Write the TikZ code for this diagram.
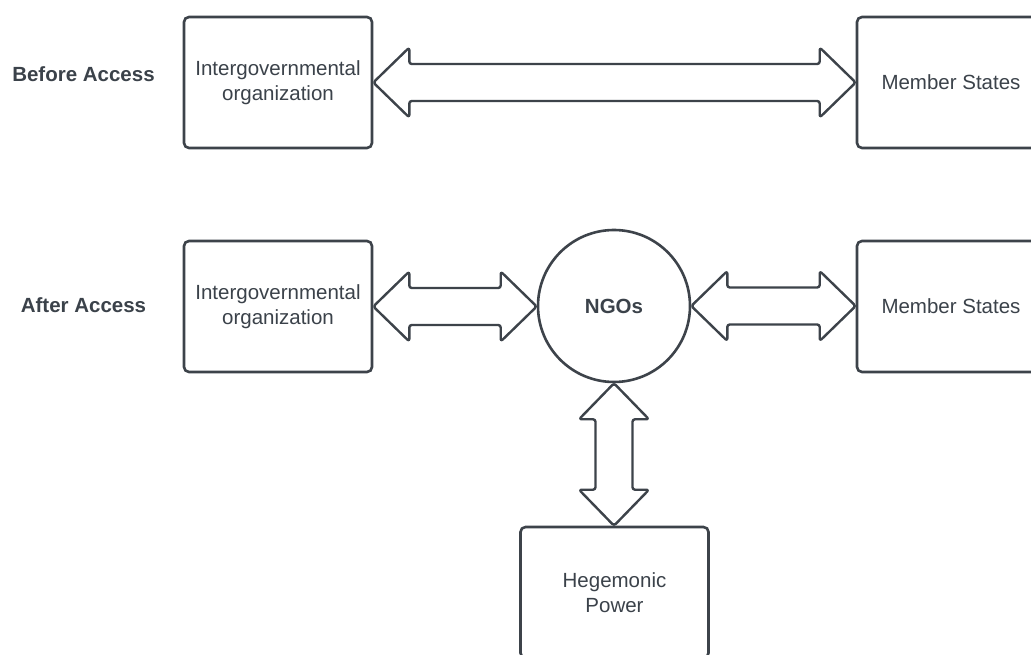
\documentclass[tikz,border=0pt]{standalone}
\usepackage{fontspec}
\setmainfont{Liberation Sans}
\usetikzlibrary{calc}
\definecolor{ink}{HTML}{3D434A}
\definecolor{txt}{HTML}{3B424A}
\tikzset{
  box/.style={draw=ink, line width=2.6pt, rounded corners=5pt, minimum width=188pt,
    minimum height=131pt, inner sep=0pt, align=center, text=txt,
    font=\fontsize{20.5}{25}\selectfont},
  hub/.style={draw=ink, line width=2.6pt, circle, minimum size=152pt, inner sep=0pt,
    text=txt, font=\fontsize{20.5}{25}\selectfont\bfseries},
  phase/.style={text=txt, font=\fontsize{20.5}{24}\selectfont\bfseries, inner sep=0pt},
  link/.style={draw=ink, fill=white, line width=2.4pt, rounded corners=2.5pt, line join=round},
}
% horizontal double arrow from the east side of #1 to the west side of #2
\newcommand{\hlink}[2]{%
  \path[link] let \p1=(#1.east), \p2=(#2.west) in
    (\x1,\y1) -- (\x1+36pt,\y1+35pt) -- (\x1+36pt,\y1+18.5pt) -- (\x2-36pt,\y1+18.5pt)
    -- (\x2-36pt,\y1+35pt) -- (\x2,\y1) -- (\x2-36pt,\y1-35pt) -- (\x2-36pt,\y1-18.5pt)
    -- (\x1+36pt,\y1-18.5pt) -- (\x1+36pt,\y1-35pt) -- cycle;}
% vertical double arrow from the south side of #1 to the north side of #2
\newcommand{\vlink}[2]{%
  \path[link] let \p1=(#1.south), \p2=(#2.north) in
    (\x1,\y1) -- (\x1-35pt,\y1-36pt) -- (\x1-18.5pt,\y1-36pt) -- (\x1-18.5pt,\y2+36pt)
    -- (\x1-35pt,\y2+36pt) -- (\x1,\y2) -- (\x1+35pt,\y2+36pt) -- (\x1+18.5pt,\y2+36pt)
    -- (\x1+18.5pt,\y1-36pt) -- (\x1+35pt,\y1-36pt) -- cycle;}
\begin{document}
\begin{tikzpicture}[x=1pt,y=1pt]
  \clip (0,0) rectangle (1031,654);
  \fill[white] (0,0) rectangle (1031,654);

  % row labels
  \node[phase] (before) at (83.5,580) {Before Access};
  \node[phase] (after)  at (83.5,349) {After Access};

  % before access
  \node[box] (igo1) at (278,571.5) {Intergovernmental\\organization};
  \node[box] (ms1)  at (951,571.5) {Member States};
  \hlink{igo1}{ms1}

  % after access
  \node[box] (igo2) at (278,347.5) {Intergovernmental\\organization};
  \node[hub] (ngo)  at (614,348)   {NGOs};
  \node[box] (ms2)  at (951,347.5) {Member States};
  \node[box] (heg)  at (614.5,61.5) {Hegemonic\\Power};
  \hlink{igo2}{ngo}
  \hlink{ngo}{ms2}
  \vlink{ngo}{heg}
\end{tikzpicture}
\end{document}
